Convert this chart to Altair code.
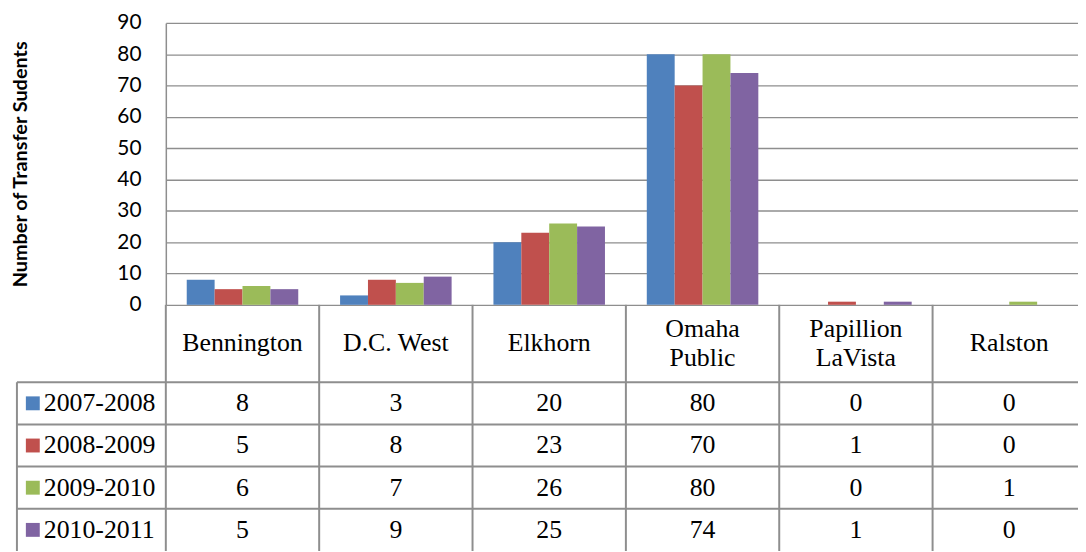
import altair as alt
import pandas as pd

schools = ["Bennington", "D.C. West", "Elkhorn", "Omaha Public", "Papillion LaVista", "Ralston"]
header_labels = ["Bennington", "D.C. West", "Elkhorn", "Omaha\nPublic", "Papillion\nLaVista", "Ralston"]
years = ["2007-2008", "2008-2009", "2009-2010", "2010-2011"]
v_2007_2008 = [8, 3, 20, 80, 0, 0]
v_2008_2009 = [5, 8, 23, 70, 1, 0]
v_2009_2010 = [6, 7, 26, 80, 0, 1]
v_2010_2011 = [5, 9, 25, 74, 1, 0]
colors = ["#4F81BD", "#C0504D", "#9BBB59", "#8064A2"]
y_ticks = [0, 10, 20, 30, 40, 50, 60, 70, 80, 90]
y_title = "Number of Transfer Sudents"

records = []
for yr, vals in zip(years, [v_2007_2008, v_2008_2009, v_2009_2010, v_2010_2011]):
    for s, v in zip(schools, vals):
        records.append({"school": s, "year": yr, "value": v})
df = pd.DataFrame(records)
hdr = pd.DataFrame({"school": schools, "label": header_labels})
hdr["lines"] = hdr["label"].str.count("\n") + 1
hdr1 = hdr[hdr["lines"] == 1]
hdr2 = hdr[hdr["lines"] == 2]
yrs = pd.DataFrame({"year": years})
one = pd.DataFrame({"k": [0]})

LINE = "#8e8e8e"
SERIF = "Liberation Serif"
LH = 29

x_scale = alt.Scale(domain=schools, range=[0, 927], paddingInner=0, paddingOuter=0)
x_enc = alt.X("school:N", sort=schools, scale=x_scale, axis=None)
color_enc = alt.Color("year:N", sort=years, scale=alt.Scale(domain=years, range=colors), legend=None)
tab_scale = alt.Scale(domain=years, range=[362, 532], paddingInner=0, paddingOuter=0)
y_tab = alt.Y("year:N", sort=years, scale=tab_scale, axis=None)

bars = alt.Chart(df).mark_bar().encode(
    x=x_enc,
    xOffset=alt.XOffset("year:N", sort=years, scale=alt.Scale(domain=years, paddingInner=0, paddingOuter=0.75)),
    y=alt.Y("value:Q", scale=alt.Scale(domain=[0, 90], nice=False),
            axis=alt.Axis(values=y_ticks, title=y_title, titleFont="Lato", titleFontSize=20,
                          titleFontWeight="bold", titleColor="black", titlePadding=87,
                          labelFont="Lato", labelFontSize=21, labelColor="black", labelPadding=25,
                          ticks=False, domainColor=LINE, domainWidth=1.5,
                          grid=True, gridColor=LINE, gridWidth=1.3)),
    color=color_enc,
)

cells = alt.Chart(df).mark_text(font=SERIF, fontSize=26, baseline="middle", color="black").encode(
    x=x_enc, y=y_tab, text="value:Q")

header1 = alt.Chart(hdr1).mark_text(font=SERIF, fontSize=26, baseline="middle", color="black").encode(
    x=x_enc, y=alt.value(323), text="label:N")

header2 = alt.Chart(hdr2).mark_text(font=SERIF, fontSize=26, baseline="middle", color="black",
                                     lineBreak="\n", lineHeight=LH).encode(
    x=x_enc, y=alt.value(323 - LH / 2), text="label:N")

leg_labels = alt.Chart(yrs).mark_text(font=SERIF, fontSize=26, baseline="middle", align="left",
                                       color="black").encode(
    x=alt.value(-123), y=y_tab, text="year:N")

leg_squares = alt.Chart(yrs).mark_square(size=196, opacity=1).encode(
    x=alt.value(-134), y=y_tab, color=color_enc)

row_rules = alt.Chart(yrs).mark_rule(color=LINE, strokeWidth=2).encode(
    y=alt.Y("year:N", sort=years, scale=tab_scale, axis=None, bandPosition=0),
    x=alt.value(-150), x2=alt.value(927))

col_rules = alt.Chart(hdr).mark_rule(color=LINE, strokeWidth=2).encode(
    x=alt.X("school:N", sort=schools, scale=x_scale, axis=None, bandPosition=0),
    y=alt.value(284), y2=alt.value(532))

left_rule = alt.Chart(one).mark_rule(color=LINE, strokeWidth=2).encode(
    x=alt.value(-150), y=alt.value(362), y2=alt.value(532))

table = alt.layer(row_rules, col_rules, left_rule, cells, header1, header2, leg_squares, leg_labels)

chart = alt.layer(bars, table).resolve_scale(y="independent").properties(
    width=919, height=284,
    padding={"left": 159, "top": 13, "right": 0, "bottom": 247},
    autosize=alt.AutoSizeParams(type="none"),
    background="white",
).configure_view(stroke=None)

chart.save("out.html", embed_options={"renderer": "svg", "actions": False})
